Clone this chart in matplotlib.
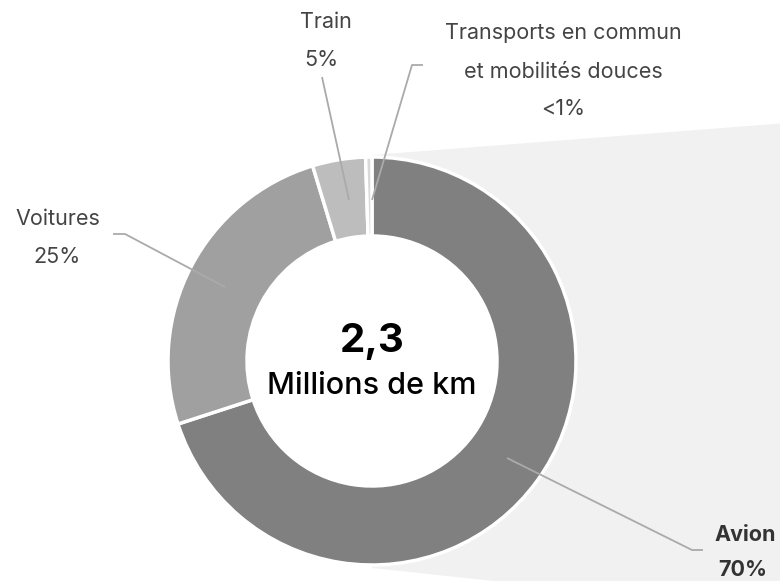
import matplotlib.pyplot as plt
from matplotlib.patches import Polygon, Circle

# mode de transport -> part des km parcourus (%)
categories = ["Avion", "Voitures", "Train", "Transports en commun\net mobilités douces"]
shares = [70.0, 25.3, 4.2, 0.5]
share_labels = ["70%", "25%", "5%", "<1%"]
colors = ["#808080", "#a0a0a0", "#bdbdbd", "#d9d9d9"]
total_value = "2,3"
total_unit = "Millions de km"

W, H = 780, 581
fig = plt.figure(figsize=(W / 100, H / 100), dpi=100)
ax = fig.add_axes([0, 0, 1, 1])

cx, cy, R, ring = 372, H - 361, 204, 79

ax.pie(shares, colors=colors, startangle=90, counterclock=False,
       center=(cx, cy), radius=R,
       wedgeprops=dict(width=ring, edgecolor="white", linewidth=2.5))
ax.set_xlim(0, W)
ax.set_ylim(0, H)
ax.set_aspect("auto")
ax.axis("off")

# zoom fan toward the (off-screen) detail chart
fan = Polygon([(cx, cy + R + 2), (W + 20, H - 122), (W + 20, -20), (cx + 310, -20), (cx, cy - R - 3)],
              closed=True, facecolor="#f1f1f1", edgecolor="none", zorder=0, clip_on=False)
ax.add_patch(fan)
ax.add_patch(Circle((cx, cy), R - ring, facecolor="white", edgecolor="none", zorder=0.5))

font = "Inter"
lab_col = "#444444"
line_col = "#aaaaaa"
fs = 15.5

ax.text(cx, H - 341, total_value, ha="center", va="center", fontsize=29,
        fontweight="bold", family=font, color="black")
ax.text(cx, H - 386, total_unit, ha="center", va="center", fontsize=22,
        fontweight="medium", family=font, color="black")

# leader lines (pixel layout)
leaders = [
    [(507, 458), (692, 550), (703, 550)],
    [(225, 287), (125, 234), (113, 234)],
    [(349, 200), (322, 77)],
    [(372, 200), (412, 65), (423, 65)],
]
for pts in leaders:
    xs = [p[0] for p in pts]
    ys = [H - p[1] for p in pts]
    ax.plot(xs, ys, color=line_col, lw=1.3, solid_capstyle="butt", zorder=5)

# labels
ax.text(745, H - 535, categories[0], ha="center", va="center", fontsize=fs,
        fontweight="bold", family=font, color="#333333")
ax.text(743, H - 570, share_labels[0], ha="center", va="center", fontsize=fs,
        fontweight="bold", family=font, color="#333333")

ax.text(58, H - 219, categories[1], ha="center", va="center", fontsize=fs,
        family=font, color=lab_col)
ax.text(57, H - 257, share_labels[1], ha="center", va="center", fontsize=fs,
        family=font, color=lab_col)

ax.text(326, H - 22, categories[2], ha="center", va="center", fontsize=fs,
        family=font, color=lab_col)
ax.text(321, H - 60, share_labels[2], ha="center", va="center", fontsize=fs,
        family=font, color=lab_col)

tc1, tc2 = categories[3].split("\n")
ax.text(563, H - 33, tc1, ha="center", va="center", fontsize=fs,
        family=font, color=lab_col)
ax.text(563, H - 72, tc2, ha="center", va="center", fontsize=fs,
        family=font, color=lab_col)
ax.text(563, H - 109, share_labels[3], ha="center", va="center", fontsize=fs,
        family=font, color=lab_col)

fig.savefig("out.png", dpi=100)
